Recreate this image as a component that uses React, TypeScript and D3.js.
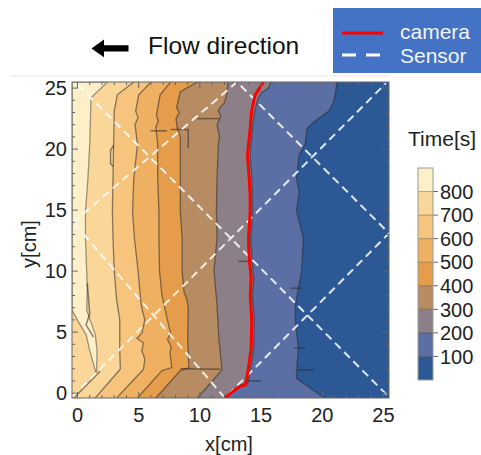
import React from 'react';
import * as d3 from 'd3';

type P = [number, number];

// time thresholds (s) and band colours, lowest band first
const levels = [100, 200, 300, 400, 500, 600, 700, 800];
const bandColors = ['#2c5896', '#5b6fa5', '#8c7f87', '#b88c62', '#e59c4b', '#f0b061', '#f6c47c', '#fad699', '#fdf0c8'];

const xTicks = [0, 5, 10, 15, 20, 25];
const yTicks = [0, 5, 10, 15, 20, 25];

// contour positions [x cm, y cm], top to bottom; region left of each line is above the level
const contour100: P[] = [[21.2,25.5],[21.05,24.45],[20.9,23.8],[20.5,23.1],[19.4,22.3],[18.75,21.7],[18.6,20.4],[18.1,19.5],[17.9,17.6],[18.1,16.5],[17.9,14.9],[18.45,12.7],[18.3,10.0],[18.05,8.6],[17.8,7.2],[17.8,5.9],[18.05,3.7],[17.9,1.8],[17.9,1.2],[19.6,0.0],[20.2,-0.4]];
const contour200: P[] = [[15.8,25.5],[15.6,25.0],[15.0,24.6],[14.7,24.0],[14.45,23.0],[14.3,21.7],[14.1,19.5],[14.25,17.6],[14.3,14.9],[14.15,12.7],[14.25,11.0],[14.4,9.4],[14.3,8.0],[14.45,5.9],[14.4,3.7],[14.15,2.0],[13.9,0.8],[13.35,0.7],[12.9,0.35],[12.2,-0.4]];
const contour300: P[] = [[12.3,25.5],[12.2,24.5],[12.0,23.8],[11.5,23.2],[11.7,22.7],[11.4,22.0],[11.6,21.0],[11.5,20.3],[11.4,17.6],[11.35,14.9],[11.4,12.7],[11.15,10.0],[11.4,7.2],[11.55,4.5],[11.7,2.9],[11.8,1.9],[9.8,-0.4]];
const contour400: P[] = [[9.8,25.5],[8.4,24.7],[8.1,23.4],[8.3,23.0],[8.05,22.5],[8.15,21.7],[8.4,21.0],[8.4,19.0],[8.4,14.9],[8.55,12.7],[8.55,10.0],[8.7,8.3],[8.9,7.8],[9.05,7.0],[9.0,4.5],[9.1,2.1],[8.4,1.85],[6.4,-0.4]];
const contour500: P[] = [[7.6,25.5],[6.75,24.45],[6.45,22.8],[6.6,22.3],[6.4,21.8],[6.55,20.4],[6.55,17.6],[6.65,14.9],[6.65,12.7],[6.7,10.0],[6.9,8.0],[7.3,6.2],[7.6,4.9],[7.35,4.4],[7.65,3.8],[7.55,3.3],[7.7,2.1],[6.9,1.85],[4.9,-0.4]];
const contour600: P[] = [[6.0,25.5],[5.0,24.45],[4.75,23.1],[4.95,22.6],[4.7,22.0],[4.9,20.4],[4.6,17.6],[4.5,14.9],[4.65,12.7],[4.95,10.0],[5.2,7.2],[5.5,6.0],[5.25,4.9],[4.85,4.5],[5.4,4.1],[5.25,3.5],[5.5,2.8],[5.4,2.0],[5.3,1.85],[3.2,-0.4]];
const contour700: P[] = [[4.6,25.5],[3.25,24.45],[3.0,23.1],[2.95,20.35],[2.9,17.6],[2.85,14.9],[2.9,12.7],[3.0,10.0],[3.2,7.6],[3.45,6.0],[3.45,3.5],[3.5,2.0],[3.4,1.85],[1.45,-0.4]];
// >800 s region: [y, left x, right x]
const band800: [number, number, number][] = [[25.5,-0.45,2.45],[24.2,-0.45,1.1],[20.4,-0.45,1.0],[17.6,-0.45,0.85],[14.9,-0.45,0.65],[12.7,-0.45,0.65],[8.6,-0.45,0.8],[6.8,-0.45,0.75],[5.8,0.1,1.1],[4.8,0.7,1.45],[3.5,1.0,1.6],[1.7,1.5,1.55]];

// small contour spikes / stubs
const stubs: P[][] = [
  [[5.95,21.5],[7.3,21.5]],
  [[7.6,21.6],[9.05,21.6],[9.05,20.1]],
  [[9.8,22.5],[11.6,22.5]],
  [[2.95,20.3],[2.7,19.9],[2.7,18.8],[2.9,18.6]],
  [[0.8,9.0],[1.0,6.5],[0.7,5.6],[1.3,4.6]],
  [[8.4,2.0],[11.7,1.95]],
  [[13.15,10.8],[14.2,10.8]],
  [[13.9,1.0],[15.0,1.0]],
  [[17.4,8.6],[18.3,8.6]],
  [[17.7,3.7],[18.6,3.7]],
  [[18.0,1.9],[19.3,1.9]],
  [[1.85,1.8],[-0.3,-0.4]],
];

const cameraLine: P[] = [[15.2,25.5],[14.52,24.45],[14.22,23.1],[14.11,21.7],[13.89,19.5],[14.03,17.6],[14.11,16.2],[14.11,14.9],[13.97,12.7],[14.03,11.07],[14.19,9.43],[14.11,8.03],[14.24,5.9],[14.19,3.69],[13.97,2.05],[13.73,0.66],[13.29,0.57],[12.88,0.27],[12.34,-0.14],[12.0,-0.4]];

const sensorLines: P[][] = [
  [[0.04,25.25],[25.29,-0.16]],
  [[-0.45,-0.33],[25.2,25.4]],
  [[-0.35,14.0],[13.03,25.5],[25.45,13.1],[12.05,-0.4],[-0.35,14.0]],
];

const FONT = 'Liberation Sans, Arial, sans-serif';

export default function App() {
  const x = d3.scaleLinear().domain([-0.45, 25.45]).range([72, 389]);
  const y = d3.scaleLinear().domain([-0.4, 25.5]).range([398, 82]);
  const [x0, x1] = x.range();
  const [y0, y1] = y.range();

  const contours = [contour100, contour200, contour300, contour400, contour500, contour600, contour700];

  const bandArea = d3.area<P>().y(d => y(d[1])).x0(x0).x1(d => x(d[0]));
  const topArea = d3.area<[number, number, number]>().y(d => y(d[0])).x0(d => x(d[1])).x1(d => x(d[2]));
  const line = d3.line<P>().x(d => x(d[0])).y(d => y(d[1]));

  const minor = d3.range(0, 26);

  // colour bar
  const cb = d3.scaleLinear().domain([0, 900]).range([380, 168]);
  const cbBands = d3.range(0, 9);

  return (
    <svg width={481} height={455} style={{ position: 'absolute', left: 0, top: 0, background: '#fff' }} fontFamily={FONT}>
      <defs>
        <clipPath id="plotClip">
          <rect x={x0} y={y1} width={x1 - x0} height={y0 - y1} />
        </clipPath>
      </defs>

      {/* title row */}
      <path d="M91.5,48.4 L104,39.5 L104,45.2 L128.5,45.2 L128.5,51.6 L104,51.6 L104,57.3 Z" fill="#000" />
      <text x={148} y={54} fontSize={24.5} fill="#111">Flow direction</text>
      <line x1={10} x2={388} y1={76} y2={76} stroke="#f3f3f3" strokeWidth={2} />

      {/* legend box */}
      <rect x={333} y={8} width={150} height={65} fill="#4472c4" />
      <line x1={342} x2={383} y1={33} y2={33} stroke="#ff0000" strokeWidth={3} />
      <line x1={342} x2={381} y1={55} y2={55} stroke="#fff" strokeWidth={3} strokeDasharray="14,10" />
      <text x={400} y={39} fontSize={21} fill="#f2f5fb">camera</text>
      <text x={400} y={63} fontSize={21} fill="#f2f5fb">Sensor</text>

      {/* contour bands */}
      <g clipPath="url(#plotClip)">
        <rect x={x0} y={y1} width={x1 - x0} height={y0 - y1} fill={bandColors[0]} />
        {contours.map((c, i) => (
          <path key={'b' + i} d={bandArea(c) || ''} fill={bandColors[i + 1]} />
        ))}
        <path d={topArea(band800) || ''} fill={bandColors[8]} />
        {contours.map((c, i) => (
          <path key={'l' + i} d={line(c) || ''} fill="none" stroke="#2a2a2a" strokeOpacity={0.55} strokeWidth={1.3} />
        ))}
        <path d={topArea(band800) || ''} fill="none" stroke="#2a2a2a" strokeOpacity={0.45} strokeWidth={1.3} />
        {stubs.map((s, i) => (
          <path key={'s' + i} d={line(s) || ''} fill="none" stroke="#2a2a2a" strokeOpacity={0.55} strokeWidth={1.5} />
        ))}
        {sensorLines.map((s, i) => (
          <path key={'w' + i} d={line(s) || ''} fill="none" stroke="#fff" strokeOpacity={0.85} strokeWidth={2} strokeDasharray="8,5" />
        ))}
        <path d={line(cameraLine) || ''} fill="none" stroke="#ff0000" strokeWidth={3} strokeLinejoin="round" />
      </g>

      {/* frame and ticks */}
      <rect x={x0} y={y1} width={x1 - x0} height={y0 - y1} fill="none" stroke="#666" strokeWidth={1} />
      {minor.map(t => {
        const len = t % 5 === 0 ? 6 : 3;
        return (
          <g key={'t' + t} stroke="#666" strokeWidth={1}>
            <line x1={x(t)} x2={x(t)} y1={y0} y2={y0 - len} />
            <line x1={x(t)} x2={x(t)} y1={y1} y2={y1 + len} />
            <line x1={x0} x2={x0 + len} y1={y(t)} y2={y(t)} />
            <line x1={x1} x2={x1 - len} y1={y(t)} y2={y(t)} />
          </g>
        );
      })}
      {xTicks.map(t => (
        <text key={'xt' + t} x={x(t)} y={422} fontSize={20} textAnchor="middle" fill="#222">{t}</text>
      ))}
      {yTicks.map(t => (
        <text key={'yt' + t} x={67} y={y(t)} dy="0.36em" fontSize={20} textAnchor="end" fill="#222">{t}</text>
      ))}
      <text x={229} y={451} fontSize={20} textAnchor="middle" fill="#222">x[cm]</text>
      <text transform="translate(36,244) rotate(-90)" fontSize={20} textAnchor="middle" fill="#222">y[cm]</text>

      {/* colour bar */}
      <text x={408} y={146} fontSize={21} fill="#222">Time[s]</text>
      {cbBands.map(i => (
        <rect key={'cb' + i} x={418} y={cb(i * 100 + 100)} width={15} height={cb(i * 100) - cb(i * 100 + 100)} fill={bandColors[i]} />
      ))}
      {levels.map(v => (
        <g key={'cl' + v}>
          <line x1={418} x2={433} y1={cb(v)} y2={cb(v)} stroke="#000" strokeOpacity={0.3} />
          <line x1={433} x2={438} y1={cb(v)} y2={cb(v)} stroke="#666" />
          <text x={440} y={cb(v)} dy="0.36em" fontSize={20} fill="#222">{v}</text>
        </g>
      ))}
      <rect x={418} y={168} width={15} height={212} fill="none" stroke="#999" />
    </svg>
  );
}
